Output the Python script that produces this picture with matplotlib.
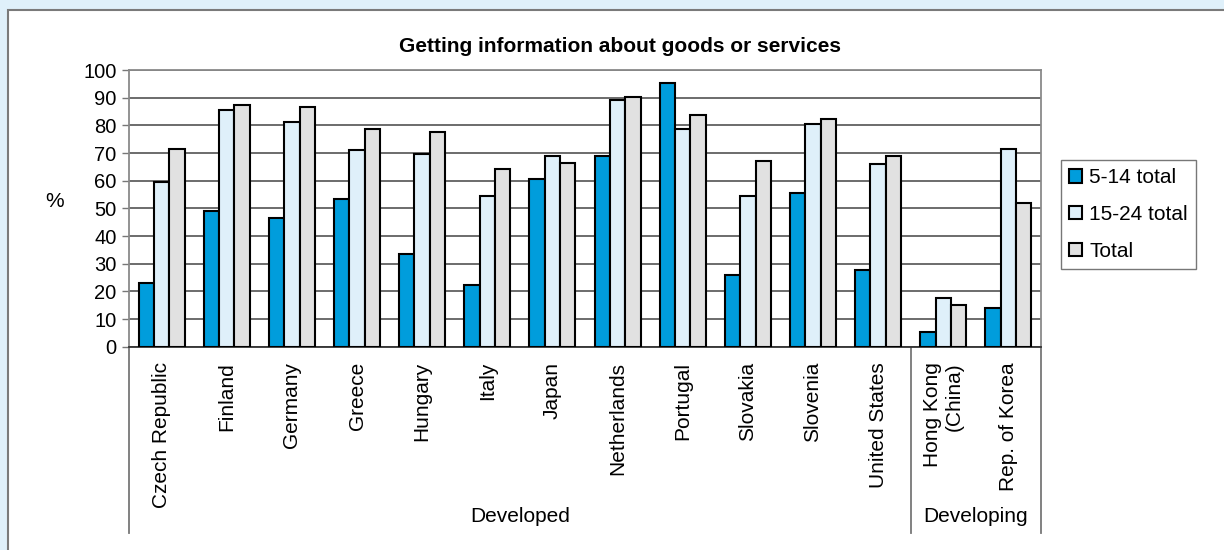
import numpy as np
import matplotlib
matplotlib.use('Agg')
import matplotlib.pyplot as plt
from matplotlib.patches import Rectangle

plt.rcParams['font.family'] = ['Liberation Sans', 'DejaVu Sans']

# data
countries = ['Czech Republic', 'Finland', 'Germany', 'Greece', 'Hungary', 'Italy', 'Japan',
             'Netherlands', 'Portugal', 'Slovakia', 'Slovenia', 'United States',
             'Hong Kong\n(China)', 'Rep. of Korea']
age_5_14 = [23, 49, 46.6, 53.3, 33.4, 22.3, 60.6, 68.9, 95.2, 25.9, 55.7, 27.8, 5.3, 13.9]
age_15_24 = [59.4, 85.5, 81.3, 71, 69.6, 54.5, 68.9, 89, 78.7, 54.5, 80.6, 66, 17.5, 71.4]
total = [71.4, 87.3, 86.6, 78.8, 77.6, 64.2, 66.5, 90.2, 83.6, 67.2, 82.4, 68.9, 15.1, 52]
groups = ['Developed', 'Developing']
group_sizes = [12, 2]
series_names = ['5-14 total', '15-24 total', 'Total']
colors = ['#009ddc', '#dff0fa', '#e1e1e1']

W, H = 1224, 550
fig = plt.figure(figsize=(W / 100, H / 100), dpi=100, facecolor='#dff0fa')

# white panel
fig.patches.append(Rectangle((8 / W, -0.1), 1.2, (H - 10) / H + 0.1, transform=fig.transFigure,
                             facecolor='white', edgecolor='#7a7a7a', linewidth=1.5, zorder=-10))

ax = fig.add_axes([129 / W, 1 - 346.7 / H, (1041 - 129) / W, (346.7 - 70) / H])
ax.set_facecolor('white')

x = np.arange(len(countries))
bw = 0.235
for i, (vals, col, name) in enumerate(zip([age_5_14, age_15_24, total], colors, series_names)):
    ax.bar(x + (i - 1) * bw, vals, width=bw, color=col, edgecolor='black', linewidth=1.5,
           label=name, zorder=3)

ax.set_xlim(-0.5, len(countries) - 0.5)
ax.set_ylim(0, 100)
ax.set_yticks(range(0, 101, 10))
ax.tick_params(axis='y', labelsize=14.5, length=5, width=1, color='#777777', pad=4, direction='out')
ax.grid(axis='y', color='#444444', linewidth=1.1, zorder=0)
ax.set_axisbelow(True)

ax.set_xticks(x)
ax.set_xticklabels(countries, rotation=90, fontsize=15, ha='center', va='top')
for lab in ax.get_xticklabels():
    lab.set_multialignment('right')
ax.tick_params(axis='x', length=0, pad=11)

for s in ['top', 'right', 'left']:
    ax.spines[s].set_color('#8a8a8a')
    ax.spines[s].set_linewidth(1.3)
ax.spines['bottom'].set_color('#333333')
ax.spines['bottom'].set_linewidth(1.3)

# group separators and labels under the axis
trans = ax.get_xaxis_transform()
ylow = -(533 - 346.7) / (346.7 - 70)
edges = np.concatenate([[0], np.cumsum(group_sizes)]) - 0.5
for e in edges:
    ax.plot([e, e], [0, ylow], color='#777777', linewidth=1.3, transform=trans, clip_on=False)
for g, a, b in zip(groups, edges[:-1], edges[1:]):
    ax.text((a + b) / 2, -(517 - 346.7) / (346.7 - 70), g, transform=trans, ha='center',
            va='center', fontsize=15)

ax.legend(loc='upper left', bbox_to_anchor=(1061 / W, 1 - 160 / H), bbox_transform=fig.transFigure,
          borderaxespad=0, fontsize=15, frameon=True, fancybox=False, edgecolor='#555555',
          handlelength=0.6, handleheight=0.6, handletextpad=0.35, labelspacing=0.85,
          borderpad=0.4)
leg = ax.get_legend()
leg.get_frame().set_linewidth(1.0)

fig.text(620 / W, 1 - 46 / H, 'Getting information about goods or services', ha='center',
         va='center', fontsize=15, fontweight='bold')
fig.text(55 / W, 1 - 202 / H, '%', ha='center', va='center', fontsize=15)

fig.savefig('out.png', dpi=100, facecolor=fig.get_facecolor())
